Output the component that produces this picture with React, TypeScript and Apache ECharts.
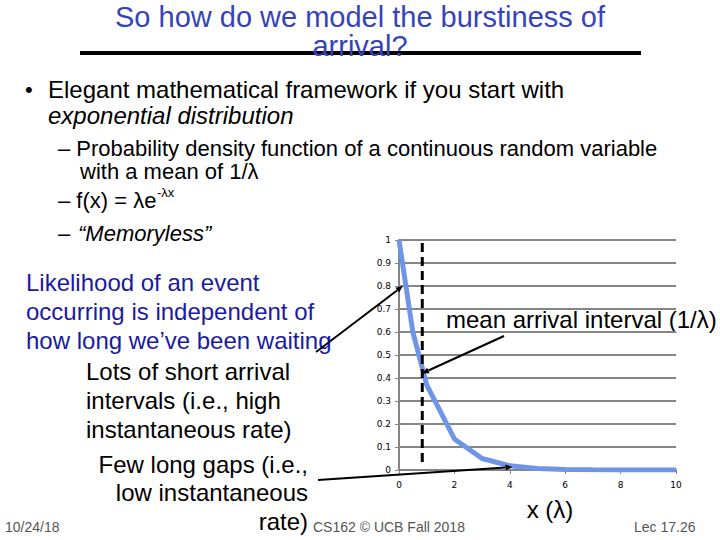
import React, { useEffect, useRef } from "react";
import * as echarts from "echarts";

// ---- data ----
const xValues = [0, 0.5, 1, 2, 3, 4, 5, 6, 7, 8, 9, 10];
const densityValues = [1, 0.6, 0.37, 0.135, 0.05, 0.018, 0.007, 0.0025, 0.001, 0.0003, 0.0001, 0.00005];
const xTickLabels = ["0", "2", "4", "6", "8", "10"];
const yTickLabels = ["0", "0.1", "0.2", "0.3", "0.4", "0.5", "0.6", "0.7", "0.8", "0.9", "1"];
const meanMarkerX = [0.84, 0.84];
const meanMarkerY = [0.987, 0.035];
// annotation arrows: text anchor (pixels) -> curve point (data)
const arrowStartsPx = [
  [316, 352],
  [504, 336],
  [318, 480],
];
const arrowTargetsX = [0.14, 0.83, 4.1];
const arrowTargetsY = [0.8, 0.42, 0.013];

const SANS = "'Liberation Sans', Arial, sans-serif";
const TITLE_BLUE = "#3444bb";
const NAVY = "#1a1aa2";
const FOOT = "#555555";

function txt(x: number, y: number, text: string, opts: any = {}) {
  return {
    type: "text",
    x,
    y,
    silent: true,
    style: {
      text,
      fill: opts.fill || "#000",
      font: `${opts.italic ? "italic " : ""}${opts.size || 24}px ${SANS}`,
      textAlign: opts.align || "left",
      textVerticalAlign: "middle",
      verticalAlign: "middle",
    },
  };
}

export default function App() {
  const ref = useRef<HTMLDivElement>(null);

  useEffect(() => {
    if (!ref.current) return;
    const chart = echarts.init(ref.current, null, { renderer: "svg" });

    const staticGraphics: any[] = [
      txt(360, 17, "So how do we model the burstiness of", { size: 29, fill: TITLE_BLUE, align: "center" }),
      { type: "line", silent: true, shape: { x1: 80, y1: 53, x2: 641, y2: 53 }, style: { stroke: "#000", lineWidth: 4 } },
      txt(360, 46, "arrival?", { size: 29, fill: TITLE_BLUE, align: "center" }),
      txt(25, 89, "•", { size: 22 }),
      txt(48, 89, "Elegant mathematical framework if you start with"),
      txt(48, 115, "exponential distribution", { italic: true }),
      txt(58, 148, "– Probability density function of a continuous random variable", { size: 22 }),
      txt(80, 171, "with a mean of 1/λ", { size: 22 }),
      txt(58, 200, "– f(x) = λe", { size: 22 }),
      txt(157, 192, "-λx", { size: 13 }),
      txt(58, 233, "–", { size: 22 }),
      txt(78, 233, "“Memoryless”", { size: 22, italic: true }),
      txt(26, 282, "Likelihood of an event", { fill: NAVY }),
      txt(26, 311, "occurring is independent of", { fill: NAVY }),
      txt(26, 340, "how long we’ve been waiting", { fill: NAVY }),
      txt(86, 371, "Lots of short arrival"),
      txt(86, 400, "intervals (i.e., high"),
      txt(86, 429, "instantaneous rate)"),
      txt(308, 464, "Few long gaps (i.e.,", { align: "right" }),
      txt(308, 492, "low instantaneous", { align: "right" }),
      txt(308, 521, "rate)", { align: "right" }),
      txt(5, 527, "10/24/18", { size: 14, fill: FOOT }),
      txt(313, 527, "CS162 © UCB Fall 2018", { size: 14, fill: FOOT }),
      txt(634, 527, "Lec 17.26", { size: 14, fill: FOOT }),
      txt(446, 319, "mean arrival interval (1/λ)"),
      txt(550, 509, "x (λ)", { align: "center" }),
    ];

    const option: any = {
      animation: false,
      backgroundColor: "#ffffff",
      grid: { left: 399, right: 44, top: 240, bottom: 70, containLabel: false },
      xAxis: {
        type: "value",
        min: 0,
        max: 10,
        interval: 2,
        axisLine: { show: true, lineStyle: { color: "#858585", width: 2 } },
        axisTick: { show: true, length: 4, lineStyle: { color: "#858585", width: 1 } },
        axisLabel: {
          color: "#000",
          fontSize: 9,
          fontFamily: "'DejaVu Sans', Tahoma, sans-serif",
          margin: 10,
          formatter: (v: number) => xTickLabels[Math.round(v / 2)] ?? String(v),
        },
        splitLine: { show: false },
      },
      yAxis: {
        type: "value",
        min: 0,
        max: 1,
        interval: 0.1,
        axisLine: { show: true, lineStyle: { color: "#858585", width: 2 } },
        axisTick: { show: true, length: 4, lineStyle: { color: "#858585", width: 1 } },
        axisLabel: {
          color: "#000",
          fontSize: 9,
          fontFamily: "'DejaVu Sans', Tahoma, sans-serif",
          margin: 8,
          formatter: (v: number) => yTickLabels[Math.round(v * 10)] ?? String(v),
        },
        splitLine: { show: true, lineStyle: { color: "#858585", width: 2 } },
      },
      series: [
        {
          type: "line",
          data: xValues.map((x, i) => [x, densityValues[i]]),
          showSymbol: false,
          symbol: "none",
          lineStyle: { color: "#6f95e6", width: 5 },
          z: 3,
        },
        {
          type: "line",
          data: meanMarkerX.map((x, i) => [x, meanMarkerY[i]]),
          showSymbol: false,
          symbol: "none",
          lineStyle: { color: "#000", width: 3, type: [9, 5] },
          z: 4,
        },
      ],
      graphic: staticGraphics,
    };
    chart.setOption(option);

    // arrows, end points from the chart's own scales
    const arrowGraphics: any[] = [];
    arrowStartsPx.forEach((s, i) => {
      const e = chart.convertToPixel({ gridIndex: 0 }, [arrowTargetsX[i], arrowTargetsY[i]]) as number[];
      const dx = e[0] - s[0];
      const dy = e[1] - s[1];
      const len = Math.sqrt(dx * dx + dy * dy);
      const ux = dx / len;
      const uy = dy / len;
      const hl = 7;
      const hw = 3;
      const bx = e[0] - ux * hl;
      const by = e[1] - uy * hl;
      arrowGraphics.push({
        type: "line",
        silent: true,
        z: 10,
        shape: { x1: s[0], y1: s[1], x2: bx, y2: by },
        style: { stroke: "#000", lineWidth: 2 },
      });
      arrowGraphics.push({
        type: "polygon",
        silent: true,
        z: 10,
        shape: {
          points: [
            [e[0], e[1]],
            [bx - uy * hw, by + ux * hw],
            [bx + uy * hw, by - ux * hw],
          ],
        },
        style: { fill: "#000" },
      });
    });
    chart.setOption({ graphic: [...staticGraphics, ...arrowGraphics] });

    return () => chart.dispose();
  }, []);

  return (
    <div
      ref={ref}
      style={{ position: "absolute", left: 0, top: 0, width: 720, height: 540, background: "#fff" }}
    />
  );
}
